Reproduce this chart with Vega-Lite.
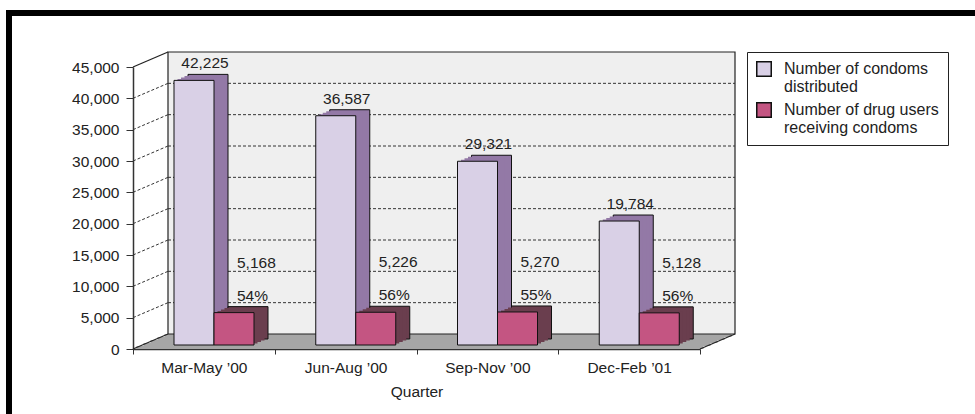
{
  "$schema": "https://vega.github.io/schema/vega-lite/v6.json",
  "width": 567,
  "height": 282,
  "autosize": {"type": "none"},
  "padding": {"left": 133, "top": 67, "right": 275, "bottom": 65},
  "background": "white",
  "config": {
    "font": "Liberation Sans",
    "view": {"stroke": null},
    "axis": {"labelFont": "Liberation Sans", "titleFont": "Liberation Sans"}
  },
  "datasets": {
    "bars": [
      {"quarter": "Mar-May ’00", "series": "Number of condoms distributed", "value": 42225, "pct": null},
      {"quarter": "Mar-May ’00", "series": "Number of drug users receiving condoms", "value": 5168, "pct": "54%"},
      {"quarter": "Jun-Aug ’00", "series": "Number of condoms distributed", "value": 36587, "pct": null},
      {"quarter": "Jun-Aug ’00", "series": "Number of drug users receiving condoms", "value": 5226, "pct": "56%"},
      {"quarter": "Sep-Nov ’00", "series": "Number of condoms distributed", "value": 29321, "pct": null},
      {"quarter": "Sep-Nov ’00", "series": "Number of drug users receiving condoms", "value": 5270, "pct": "55%"},
      {"quarter": "Dec-Feb ’01", "series": "Number of condoms distributed", "value": 19784, "pct": null},
      {"quarter": "Dec-Feb ’01", "series": "Number of drug users receiving condoms", "value": 5128, "pct": "56%"}
    ],
    "grid": [{"v": 5000}, {"v": 10000}, {"v": 15000}, {"v": 20000}, {"v": 25000}, {"v": 30000}, {"v": 35000}, {"v": 40000}],
    "edges": [{"v": 0}, {"v": 45000}],
    "frame": [{"lo": 0, "hi": 45000}]
  },
  "data": {"name": "bars"},
  "encoding": {
    "x": {
      "field": "quarter", "type": "nominal", "sort": null,
      "scale": {"domain": ["Mar-May ’00", "Jun-Aug ’00", "Sep-Nov ’00", "Dec-Feb ’01"], "paddingInner": 0, "paddingOuter": 0},
      "axis": {
        "title": "Quarter", "titleFontSize": 15.5, "titleFontWeight": "normal", "titleColor": "#222", "titlePadding": 9,
        "labelAngle": 0, "labelFontSize": 15.5, "labelColor": "#222", "labelPadding": 6,
        "tickBand": "extent", "tickSize": 5, "tickColor": "#333", "domainColor": "#333", "domainWidth": 1.5
      }
    },
    "y": {
      "field": "value", "type": "quantitative",
      "scale": {"domain": [0, 45000], "nice": false},
      "axis": {
        "title": null, "values": [0, 5000, 10000, 15000, 20000, 25000, 30000, 35000, 40000, 45000],
        "format": ",d", "grid": false, "labelFontSize": 15.5, "labelColor": "#222", "labelPadding": 7,
        "tickSize": 7, "tickColor": "#333", "domainColor": "#333", "domainWidth": 1.5
      }
    }
  },
  "resolve": {"scale": {"xOffset": "independent"}},
  "layer": [
    {
      "data": {"name": "frame"},
      "mark": {"type": "rule", "stroke": "#000", "strokeWidth": 6, "xOffset": -127, "x2Offset": 275, "yOffset": -54},
      "encoding": {"x": {"datum": "Mar-May ’00", "bandPosition": 0}, "x2": {"datum": "Dec-Feb ’01", "bandPosition": 1}, "y": {"field": "hi", "type": "quantitative"}}
    },
    {
      "data": {"name": "frame"},
      "mark": {"type": "rule", "stroke": "#000", "strokeWidth": 6, "xOffset": -124, "x2Offset": -124, "yOffset": -57, "y2Offset": 66},
      "encoding": {"x": {"datum": "Mar-May ’00", "bandPosition": 0}, "x2": {"datum": "Mar-May ’00", "bandPosition": 0}, "y": {"field": "hi", "type": "quantitative"}, "y2": {"field": "lo"}}
    },
    {
      "data": {"name": "frame"},
      "mark": {"type": "rect", "fill": "#A6A6A6", "xOffset": 3.5, "x2Offset": 3.5, "yOffset": 0, "y2Offset": -3},
      "encoding": {"x": {"datum": "Mar-May ’00", "bandPosition": 0}, "x2": {"datum": "Dec-Feb ’01", "bandPosition": 1}, "y": {"field": "lo", "type": "quantitative"}, "y2": {"field": "lo"}}
    },
    {
      "data": {"name": "frame"},
      "mark": {"type": "rect", "fill": "#A6A6A6", "xOffset": 10.5, "x2Offset": 10.5, "yOffset": -3, "y2Offset": -6},
      "encoding": {"x": {"datum": "Mar-May ’00", "bandPosition": 0}, "x2": {"datum": "Dec-Feb ’01", "bandPosition": 1}, "y": {"field": "lo", "type": "quantitative"}, "y2": {"field": "lo"}}
    },
    {
      "data": {"name": "frame"},
      "mark": {"type": "rect", "fill": "#A6A6A6", "xOffset": 17.5, "x2Offset": 17.5, "yOffset": -6, "y2Offset": -9},
      "encoding": {"x": {"datum": "Mar-May ’00", "bandPosition": 0}, "x2": {"datum": "Dec-Feb ’01", "bandPosition": 1}, "y": {"field": "lo", "type": "quantitative"}, "y2": {"field": "lo"}}
    },
    {
      "data": {"name": "frame"},
      "mark": {"type": "rect", "fill": "#A6A6A6", "xOffset": 24.5, "x2Offset": 24.5, "yOffset": -9, "y2Offset": -12},
      "encoding": {"x": {"datum": "Mar-May ’00", "bandPosition": 0}, "x2": {"datum": "Dec-Feb ’01", "bandPosition": 1}, "y": {"field": "lo", "type": "quantitative"}, "y2": {"field": "lo"}}
    },
    {
      "data": {"name": "frame"},
      "mark": {"type": "rect", "fill": "#A6A6A6", "xOffset": 31.5, "x2Offset": 31.5, "yOffset": -12, "y2Offset": -15},
      "encoding": {"x": {"datum": "Mar-May ’00", "bandPosition": 0}, "x2": {"datum": "Dec-Feb ’01", "bandPosition": 1}, "y": {"field": "lo", "type": "quantitative"}, "y2": {"field": "lo"}}
    },
    {
      "data": {"name": "frame"},
      "mark": {"type": "rect", "fill": "#EFEFEF", "stroke": "#222", "strokeWidth": 1.2, "xOffset": 35, "x2Offset": 35, "yOffset": -15, "y2Offset": -15},
      "encoding": {
        "x": {"datum": "Mar-May ’00", "bandPosition": 0},
        "x2": {"datum": "Dec-Feb ’01", "bandPosition": 1},
        "y": {"field": "lo", "type": "quantitative"}, "y2": {"field": "hi"}
      }
    },
    {
      "data": {"name": "grid"},
      "mark": {"type": "rule", "stroke": "#333", "strokeDash": [3, 2], "strokeWidth": 1, "xOffset": 35, "x2Offset": 35, "yOffset": -15},
      "encoding": {
        "x": {"datum": "Mar-May ’00", "bandPosition": 0},
        "x2": {"datum": "Dec-Feb ’01", "bandPosition": 1},
        "y": {"field": "v", "type": "quantitative"}
      }
    },
    {
      "data": {"name": "grid"},
      "mark": {"type": "rule", "stroke": "#333", "strokeDash": [3, 2], "strokeWidth": 1, "x2Offset": 35, "y2Offset": -15},
      "encoding": {
        "x": {"datum": "Mar-May ’00", "bandPosition": 0},
        "x2": {"datum": "Mar-May ’00", "bandPosition": 0},
        "y": {"field": "v", "type": "quantitative"},
        "y2": {"field": "v"}
      }
    },
    {
      "data": {"name": "edges"},
      "mark": {"type": "rule", "stroke": "#222", "strokeWidth": 1.3, "x2Offset": 35, "y2Offset": -15},
      "encoding": {
        "x": {"datum": "Mar-May ’00", "bandPosition": 0},
        "x2": {"datum": "Mar-May ’00", "bandPosition": 0},
        "y": {"field": "v", "type": "quantitative"},
        "y2": {"field": "v"}
      }
    },
    {
      "data": {"name": "frame"},
      "mark": {"type": "rule", "stroke": "#222", "strokeWidth": 1.3, "x2Offset": 35, "y2Offset": -15},
      "encoding": {
        "x": {"datum": "Dec-Feb ’01", "bandPosition": 1},
        "x2": {"datum": "Dec-Feb ’01", "bandPosition": 1},
        "y": {"field": "lo", "type": "quantitative"},
        "y2": {"field": "lo"}
      }
    },
    {
      "mark": {"type": "bar", "stroke": "#111", "strokeWidth": 1, "yOffset": -10, "y2Offset": -10},
      "encoding": {
        "xOffset": {"field": "series", "scale": {"domain": ["Number of condoms distributed", "Number of drug users receiving condoms"], "paddingInner": 0, "paddingOuter": 0, "range": [55, 135]}},
        "fill": {"condition": {"test": "datum.series == 'Number of condoms distributed'", "value": "#9379A6"}, "value": "#6A3E4E"}
      }
    },
    {
      "mark": {"type": "bar", "yOffset": -8.5, "y2Offset": -8.5},
      "encoding": {
        "xOffset": {"field": "series", "scale": {"domain": ["Number of condoms distributed", "Number of drug users receiving condoms"], "paddingInner": 0, "paddingOuter": 0, "range": [51.5, 131.5]}},
        "fill": {"condition": {"test": "datum.series == 'Number of condoms distributed'", "value": "#9379A6"}, "value": "#6A3E4E"}
      }
    },
    {
      "mark": {"type": "bar", "yOffset": -7, "y2Offset": -7},
      "encoding": {
        "xOffset": {"field": "series", "scale": {"domain": ["Number of condoms distributed", "Number of drug users receiving condoms"], "paddingInner": 0, "paddingOuter": 0, "range": [48, 128]}},
        "fill": {"condition": {"test": "datum.series == 'Number of condoms distributed'", "value": "#9379A6"}, "value": "#6A3E4E"}
      }
    },
    {
      "mark": {"type": "bar", "yOffset": -5.5, "y2Offset": -5.5},
      "encoding": {
        "xOffset": {"field": "series", "scale": {"domain": ["Number of condoms distributed", "Number of drug users receiving condoms"], "paddingInner": 0, "paddingOuter": 0, "range": [44.5, 124.5]}},
        "fill": {"condition": {"test": "datum.series == 'Number of condoms distributed'", "value": "#9379A6"}, "value": "#6A3E4E"}
      }
    },
    {
      "mark": {"type": "bar", "stroke": "#111", "strokeWidth": 1, "yOffset": -4, "y2Offset": -4},
      "encoding": {
        "xOffset": {"field": "series", "scale": {"domain": ["Number of condoms distributed", "Number of drug users receiving condoms"], "paddingInner": 0, "paddingOuter": 0, "range": [41, 121]}},
        "fill": {
          "field": "series", "type": "nominal",
          "scale": {"domain": ["Number of condoms distributed", "Number of drug users receiving condoms"], "range": ["#D9D0E6", "#C45582"]},
          "legend": {
            "title": null, "orient": "none", "legendX": 614, "legendY": -15,
            "fillColor": "white", "strokeColor": "#222", "padding": 9,
            "symbolType": "square", "symbolSize": 210, "symbolStrokeColor": "#111", "symbolStrokeWidth": 1.5,
            "labelFontSize": 16, "labelColor": "#222", "labelLimit": 0, "labelOffset": 12, "labelLineHeight": 15, "rowPadding": 4,
            "labelExpr": "datum.label == 'Number of condoms distributed' ? ['Number of condoms', 'distributed'] : ['Number of drug users', 'receiving condoms']"
          }
        }
      }
    },
    {
      "transform": [{"filter": "datum.series == 'Number of condoms distributed'"}],
      "mark": {"type": "text", "fontSize": 15.5, "color": "#222", "align": "center", "baseline": "alphabetic", "dx": 31, "dy": -16},
      "encoding": {
        "xOffset": {"field": "series", "scale": {"domain": ["Number of condoms distributed", "Number of drug users receiving condoms"], "padding": 0, "range": [41, 121]}},
        "text": {"field": "value", "type": "quantitative", "format": ","}
      }
    },
    {
      "transform": [{"filter": "datum.series == 'Number of drug users receiving condoms'"}],
      "mark": {"type": "text", "fontSize": 15.5, "color": "#222", "align": "left", "baseline": "alphabetic", "dx": -17, "dy": -49},
      "encoding": {
        "xOffset": {"field": "series", "scale": {"domain": ["Number of condoms distributed", "Number of drug users receiving condoms"], "padding": 0, "range": [41, 121]}},
        "text": {"field": "value", "type": "quantitative", "format": ","}
      }
    },
    {
      "transform": [{"filter": "datum.series == 'Number of drug users receiving condoms'"}],
      "mark": {"type": "text", "fontSize": 15.5, "color": "#222", "align": "left", "baseline": "alphabetic", "dx": -17, "dy": -16},
      "encoding": {
        "xOffset": {"field": "series", "scale": {"domain": ["Number of condoms distributed", "Number of drug users receiving condoms"], "padding": 0, "range": [41, 121]}},
        "text": {"field": "pct", "type": "nominal"}
      }
    }
  ]
}
